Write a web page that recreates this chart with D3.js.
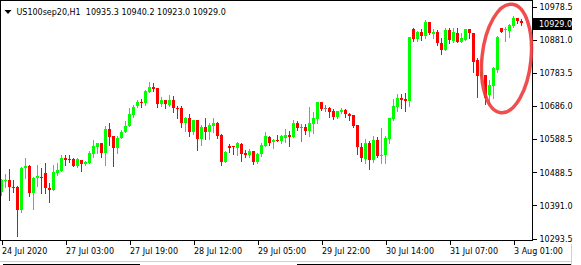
<!DOCTYPE html>
<html>
<head>
<meta charset="utf-8">
<script src="https://cdn.jsdelivr.net/npm/d3@7"></script>
<style>
  html, body { margin: 0; padding: 0; background: #ffffff; }
  svg { display: block; }
  text { font-family: "DejaVu Sans", sans-serif; font-size: 8px; fill: #000; }
</style>
</head>
<body>
<svg id="chart" width="581" height="265"></svg>
<script>
// ---- data (H1 candles, US100sep20) ----
const symbolTitle = "US100sep20,H1";
const lastQuote = ["10935.3", "10940.2", "10923.0", "10929.0"];

const openValues = [
10431.7, 10463.3, 10466.2, 10446.5, 10446.5, 10377.7, 10500.8, 10508.5, 10428.7, 10471.3,
10476.0, 10486.9, 10443.5, 10436.7, 10486.9, 10492.8, 10532.1, 10529.1, 10528.2, 10507.6,
10525.3, 10513.5, 10516.4, 10542.1, 10564.5, 10574.6, 10546.8, 10616.8, 10594.7, 10559.8,
10589.4, 10607.1, 10624.2, 10658.1, 10684.7, 10695.6, 10694.5, 10726.9, 10740.8, 10737.0,
10689.7, 10701.5, 10687.7, 10702.4, 10678.8, 10679.7, 10635.4, 10649.3, 10607.1, 10643.4,
10587.3, 10622.7, 10608.8, 10625.7, 10635.4, 10599.1, 10519.4, 10567.5, 10565.7, 10559.8,
10573.4, 10545.9, 10540.0, 10551.9, 10518.5, 10543.0, 10567.5, 10593.2, 10577.6, 10584.3,
10582.3, 10591.1, 10600.0, 10594.1, 10633.6, 10623.6, 10623.6, 10611.8, 10631.6, 10647.2,
10696.5, 10677.9, 10678.8, 10670.0, 10651.4, 10667.9, 10673.8, 10661.1, 10657.3, 10628.6,
10564.5, 10527.3, 10576.4, 10525.3, 10584.3, 10540.0, 10540.0, 10587.3, 10647.2, 10682.7,
10708.3, 10704.5, 10699.5, 10912.1, 10882.6, 10902.3, 10891.4, 10931.9, 10896.4, 10902.3,
10869.9, 10850.1, 10909.1, 10877.5, 10899.4, 10874.6, 10880.5, 10912.1, 10900.3, 10820.5,
10774.2, 10776.3, 10717.2, 10743.8, 10791.0, 10914.1, 10908.2, 10906.2, 10921.8, 10945.4,
10935.3];

const highValues = [
10469.0, 10485.4, 10498.7, 10464.8, 10448.5, 10504.6, 10530.3, 10510.5, 10475.1, 10510.5,
10503.1, 10516.4, 10456.5, 10510.5, 10517.3, 10540.0, 10540.0, 10538.6, 10531.2, 10532.1,
10525.3, 10522.3, 10551.9, 10584.3, 10574.6, 10575.5, 10626.6, 10633.6, 10596.2, 10596.2,
10613.9, 10640.4, 10677.9, 10687.7, 10702.4, 10705.4, 10731.9, 10754.7, 10751.8, 10737.9,
10710.4, 10702.4, 10717.2, 10714.2, 10684.7, 10684.7, 10653.1, 10661.1, 10643.4, 10643.4,
10628.6, 10650.2, 10635.4, 10650.2, 10638.4, 10601.2, 10550.4, 10572.5, 10567.5, 10579.3,
10574.0, 10554.8, 10557.8, 10551.9, 10544.5, 10574.6, 10607.1, 10594.7, 10587.3, 10599.1,
10599.1, 10616.8, 10610.9, 10643.4, 10640.4, 10630.7, 10631.6, 10682.7, 10666.1, 10696.5,
10698.0, 10687.7, 10680.3, 10675.9, 10671.4, 10677.9, 10676.8, 10663.2, 10658.1, 10628.6,
10574.6, 10587.3, 10581.4, 10596.2, 10594.1, 10620.7, 10596.2, 10650.2, 10706.3, 10719.3,
10720.2, 10723.1, 10889.9, 10914.1, 10906.2, 10912.1, 10938.6, 10932.7, 10912.1, 10909.1,
10884.6, 10914.1, 10915.9, 10914.1, 10914.1, 10899.4, 10912.1, 10913.5, 10900.3, 10825.6,
10825.6, 10776.3, 10761.5, 10800.8, 10891.4, 10915.9, 10918.9, 10925.9, 10950.5, 10946.0,
10940.2];

const lowValues = [
10421.9, 10445.6, 10407.2, 10431.7, 10300.9, 10372.6, 10471.3, 10419.9, 10381.5, 10448.5,
10427.0, 10426.4, 10399.8, 10436.7, 10481.0, 10492.8, 10510.5, 10518.5, 10506.1, 10505.5,
10492.8, 10510.5, 10516.4, 10535.0, 10545.1, 10535.0, 10510.5, 10569.6, 10508.5, 10545.1,
10588.8, 10607.1, 10624.2, 10653.1, 10682.7, 10680.9, 10687.7, 10726.9, 10729.0, 10682.7,
10684.7, 10679.7, 10685.6, 10667.9, 10650.2, 10623.6, 10611.8, 10597.0, 10602.0, 10554.8,
10569.6, 10587.3, 10587.3, 10608.8, 10590.2, 10510.5, 10517.9, 10548.0, 10543.9, 10540.0,
10522.3, 10534.1, 10534.1, 10512.6, 10515.5, 10537.1, 10567.5, 10569.6, 10561.6, 10582.3,
10576.4, 10579.3, 10567.5, 10594.1, 10613.9, 10582.3, 10602.0, 10597.0, 10605.9, 10635.4,
10673.8, 10670.9, 10653.1, 10646.3, 10649.3, 10664.1, 10651.4, 10643.4, 10623.6, 10543.0,
10522.3, 10517.3, 10499.6, 10520.3, 10535.0, 10517.3, 10515.5, 10576.4, 10643.4, 10670.0,
10678.8, 10670.0, 10685.6, 10876.6, 10876.6, 10879.6, 10884.6, 10896.4, 10884.6, 10864.8,
10838.3, 10850.1, 10871.6, 10872.8, 10872.8, 10874.6, 10880.5, 10884.6, 10786.0, 10712.2,
10771.2, 10690.6, 10687.7, 10708.3, 10785.1, 10902.3, 10876.6, 10889.3, 10918.9, 10928.9,
10923.0];

const closeValues = [
10466.2, 10466.2, 10444.7, 10443.5, 10377.7, 10501.7, 10507.6, 10428.7, 10473.6, 10478.9,
10471.3, 10441.7, 10437.6, 10489.0, 10495.8, 10531.2, 10525.3, 10524.4, 10507.6, 10528.2,
10513.5, 10519.4, 10545.1, 10566.6, 10574.6, 10546.8, 10616.8, 10594.1, 10559.8, 10590.2,
10608.0, 10625.7, 10661.1, 10681.8, 10695.6, 10692.7, 10729.0, 10740.8, 10734.9, 10691.5,
10701.5, 10689.7, 10702.4, 10677.9, 10676.8, 10635.4, 10650.2, 10608.8, 10642.5, 10588.2,
10622.7, 10608.8, 10628.6, 10635.4, 10595.3, 10518.5, 10548.9, 10561.6, 10562.8, 10576.4,
10542.1, 10540.0, 10551.9, 10520.3, 10543.9, 10569.6, 10596.2, 10576.4, 10584.3, 10582.3,
10597.0, 10600.0, 10594.1, 10633.6, 10618.9, 10623.6, 10611.8, 10634.5, 10649.3, 10696.5,
10675.9, 10677.9, 10667.0, 10651.4, 10670.0, 10673.8, 10660.2, 10656.1, 10626.6, 10562.8,
10530.3, 10574.6, 10525.3, 10584.3, 10537.1, 10541.0, 10591.1, 10650.2, 10684.7, 10707.5,
10702.4, 10699.5, 10889.3, 10881.7, 10904.1, 10891.4, 10931.9, 10899.4, 10902.3, 10869.9,
10850.1, 10909.1, 10879.6, 10902.3, 10874.6, 10884.6, 10912.1, 10900.3, 10815.5, 10774.2,
10786.0, 10708.3, 10746.7, 10797.8, 10889.3, 10904.1, 10911.2, 10923.9, 10945.4, 10935.8,
10929.0];

const xTickIndex  = [0, 16, 32, 48, 64, 80, 96, 112, 128];
const xTickLabels = ["24 Jul 2020", "27 Jul 03:00", "27 Jul 19:00", "28 Jul 12:00",
                     "29 Jul 05:00", "29 Jul 22:00", "30 Jul 14:00", "31 Jul 07:00", "3 Aug 01:00"];
const yTickValues = [10978.5, 10881.0, 10783.5, 10686.0, 10588.5, 10488.5, 10391.0, 10293.5];
const currentPrice = 10929.0;

// ---- build ----
const candles = openValues.map((o, i) => ({
  i, o, h: highValues[i], l: lowValues[i], c: closeValues[i]
}));

const svg = d3.select("#chart");
const plotRight = 532;
const plotBottom = 240;

const x = d3.scaleLinear().domain([0, 130]).range([1.5, 521.5]);
const y = d3.scaleLinear().domain([10293.5, 10978.5]).range([238.5, 6.5]);

svg.append("rect").attr("width", 581).attr("height", 265).attr("fill", "#fff");

svg.append("clipPath").attr("id", "plotclip")
  .append("rect").attr("x", 1).attr("y", 1).attr("width", plotRight - 1).attr("height", plotBottom - 1);

const plot = svg.append("g").attr("clip-path", "url(#plotclip)");

const colorOf = d => d.c > d.o ? "#00ff00" : (d.c < d.o ? "#ff0000" : "#808080");

const g = plot.selectAll("g.candle").data(candles).join("g").attr("class", "candle");

// wicks
g.append("rect")
  .attr("x", d => x(d.i) - 0.5)
  .attr("y", d => Math.round(y(d.h)))
  .attr("width", 1)
  .attr("height", d => Math.max(1, Math.round(y(d.l)) - Math.round(y(d.h)) + 1))
  .attr("fill", colorOf)
  .attr("shape-rendering", "crispEdges");

// bodies
g.append("rect")
  .attr("x", d => x(d.i) - 1.5)
  .attr("y", d => Math.round(y(Math.max(d.o, d.c))))
  .attr("width", 3)
  .attr("height", d => Math.max(1, Math.round(y(Math.min(d.o, d.c))) - Math.round(y(Math.max(d.o, d.c)))))
  .attr("fill", colorOf)
  .attr("shape-rendering", "crispEdges");

// frame lines
svg.append("line").attr("x1", 0.5).attr("y1", 0).attr("x2", 0.5).attr("y2", plotBottom + 1)
  .attr("stroke", "#000").attr("shape-rendering", "crispEdges");
svg.append("line").attr("x1", 0).attr("y1", 0.5).attr("x2", plotRight + 1).attr("y2", 0.5)
  .attr("stroke", "#000").attr("shape-rendering", "crispEdges");
svg.append("line").attr("x1", plotRight + 0.5).attr("y1", 0).attr("x2", plotRight + 0.5).attr("y2", plotBottom + 1)
  .attr("stroke", "#000").attr("shape-rendering", "crispEdges");
svg.append("line").attr("x1", 0).attr("y1", plotBottom + 0.5).attr("x2", plotRight + 1).attr("y2", plotBottom + 0.5)
  .attr("stroke", "#000").attr("shape-rendering", "crispEdges");

// y axis (right)
const yAxis = d3.axisRight(y).tickValues(yTickValues).tickSize(4).tickSizeOuter(0)
  .tickFormat(d3.format(".1f"));
const ya = svg.append("g").attr("transform", `translate(${plotRight + 0.5},0)`).call(yAxis);
ya.select(".domain").remove();
ya.selectAll(".tick line").attr("stroke", "#000").attr("shape-rendering", "crispEdges");
ya.selectAll(".tick text").attr("x", 7).attr("dy", "0.34em")
  .style("font-family", "'DejaVu Sans', sans-serif").style("font-size", "8px").attr("fill", "#000");

// x axis (bottom)
const xAxis = d3.axisBottom(x).tickValues(xTickIndex).tickSize(4).tickSizeOuter(0)
  .tickFormat((d, k) => xTickLabels[k]);
const xa = svg.append("g").attr("transform", `translate(0,${plotBottom + 0.5})`).call(xAxis);
xa.select(".domain").remove();
xa.selectAll(".tick line").attr("stroke", "#000").attr("shape-rendering", "crispEdges");
xa.selectAll(".tick text").attr("text-anchor", "start").attr("x", 0).attr("y", 13).attr("dy", 0)
  .style("font-family", "'DejaVu Sans', sans-serif").style("font-size", "8px").attr("fill", "#000");

// current price label
const cpY = y(currentPrice);
svg.append("rect").attr("x", plotRight + 1).attr("y", Math.round(cpY) - 5).attr("width", 39).attr("height", 12)
  .attr("fill", "#000");
svg.append("text").attr("x", plotRight + 7).attr("y", cpY + 1).attr("dy", "0.34em")
  .style("fill", "#fff").text(d3.format(".1f")(currentPrice));

// header
svg.append("path").attr("d", "M4.5,10 L11.5,10 L8,14 Z").attr("fill", "#000");
svg.append("text").attr("x", 16.5).attr("y", 15).attr("xml:space", "preserve")
  .style("white-space", "pre")
  .text(symbolTitle + "  " + lastQuote.join(" "));

// annotation ellipse (hand-drawn highlight)
svg.append("ellipse")
  .attr("cx", 0).attr("cy", 0).attr("rx", 24.5).attr("ry", 54.5)
  .attr("transform", `translate(${x(126.25)},${y(10825)}) rotate(6)`)
  .attr("fill", "none").attr("stroke", "#ee3b3b").attr("stroke-opacity", 0.9).attr("stroke-width", 3.5);

// bottom window chrome
svg.append("line").attr("x1", 0).attr("y1", 261.5).attr("x2", 572).attr("y2", 261.5)
  .attr("stroke", "#d0d0d0").attr("shape-rendering", "crispEdges");
svg.append("line").attr("x1", 3).attr("y1", 264.5).attr("x2", 140).attr("y2", 264.5)
  .attr("stroke", "#000").attr("shape-rendering", "crispEdges");
svg.append("line").attr("x1", 297).attr("y1", 264.5).attr("x2", 572).attr("y2", 264.5)
  .attr("stroke", "#000").attr("shape-rendering", "crispEdges");
svg.append("line").attr("x1", 571.5).attr("y1", 244).attr("x2", 571.5).attr("y2", 265)
  .attr("stroke", "#d0d0d0").attr("shape-rendering", "crispEdges");
</script>
</body>
</html>
